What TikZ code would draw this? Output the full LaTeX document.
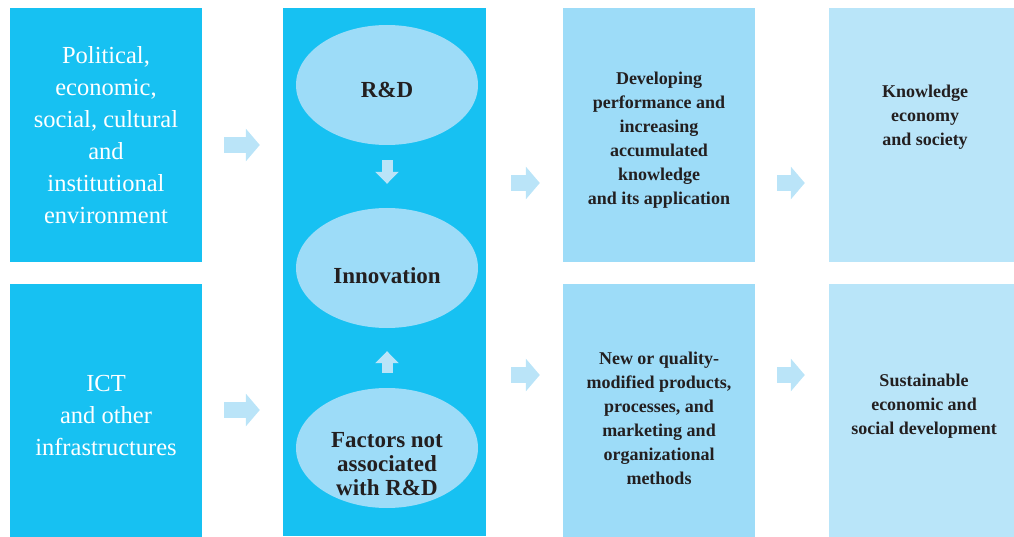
\documentclass[tikz,border=0pt]{standalone}
\usepackage{fontspec}
\setmainfont{Liberation Serif}
\usetikzlibrary{positioning, shapes.geometric, arrows.meta}

\definecolor{deepcyan}{HTML}{17C1F2}
\definecolor{paleblue}{HTML}{9DDCF8}
\definecolor{lightblue}{HTML}{B9E5F9}
\definecolor{arrowblue}{HTML}{BAE4F8}
\definecolor{inkgray}{HTML}{231F20}

\begin{document}
\begin{tikzpicture}[
        x=1pt, y=-1pt,
        every node/.style={inner sep=0pt, align=center},
        darkbox/.style={rectangle, fill=deepcyan, minimum width=192pt},
        midbox/.style={rectangle, fill=paleblue, minimum width=192pt},
        endbox/.style={rectangle, fill=lightblue, minimum width=185pt},
        bubble/.style={ellipse, fill=paleblue, minimum width=182pt, minimum height=120pt},
        whitetext/.style={text=white, font=\fontsize{24.5}{32}\selectfont},
        inktext/.style={text=inkgray, font=\bfseries\fontsize{18}{24}\selectfont},
        bubbletext/.style={text=inkgray, font=\bfseries\fontsize{23}{24}\selectfont},
        blockarrow/.style={arrowblue, line width=16pt, -{Triangle[length=14pt, width=32pt]}},
        smallarrow/.style={arrowblue, line width=11pt, -{Triangle[length=12pt, width=23pt]}}
    ]
    \useasboundingbox (0,0) rectangle (1014,537);

    % left column
    \node[darkbox, minimum height=254pt] (env) at (106,135) {};
    \node[whitetext] (env-txt) at (106,135) {Political,\\ economic,\\ social, cultural\\ and\\ institutional\\ environment};
    \node[darkbox, minimum height=253pt] (ict) at (106,410) {};
    \node[whitetext] (ict-txt) at (106,416) {ICT\\ and other\\ infrastructures};

    % middle column
    \node[rectangle, fill=deepcyan, minimum width=203pt, minimum height=528pt] (core) at (384.5,272) {};
    \node[bubble] (rd) at (387,85) {};
    \node[bubbletext] (rd-txt) at (387,90) {R\&D};
    \node[bubble] (innov) at (387,268) {};
    \node[bubbletext] (innov-txt) at (387,276) {Innovation};
    \node[bubble] (factors) at (387,448) {};
    \node[bubbletext] (factors-txt) at (387,464) {Factors not\\ associated\\ with R\&D};

    % results
    \node[midbox, minimum height=254pt] (perf) at (659,135) {};
    \node[inktext] (perf-txt) at (659,140) {Developing\\ performance and\\ increasing\\ accumulated\\ knowledge\\ and its application};
    \node[midbox, minimum height=253pt] (prod) at (659,410) {};
    \node[inktext] (prod-txt) at (659,418) {New or quality-\\ modified products,\\ processes, and\\ marketing and\\ organizational\\ methods};

    % outcomes
    \node[endbox, minimum height=254pt] (know) at (921.5,135) {};
    \node[inktext] (know-txt) at (925,117) {Knowledge\\ economy\\ and society};
    \node[endbox, minimum height=253pt] (sust) at (921.5,410) {};
    \node[inktext] (sust-txt) at (924,406) {Sustainable\\ economic and\\ social development};

    % block arrows
    \draw[blockarrow] ([xshift=22pt, yshift=-10pt]env.east) -- ([xshift=-23pt, yshift=127pt]core.west);
    \draw[blockarrow] ([xshift=22pt]ict.east) -- ([xshift=-23pt, yshift=-138pt]core.west);
    \draw[blockarrow] ([xshift=25pt, yshift=89pt]core.east) -- ([xshift=-23pt, yshift=-48pt]perf.west);
    \draw[blockarrow] ([xshift=25pt, yshift=-103pt]core.east) -- ([xshift=-23pt, yshift=35pt]prod.west);
    \draw[blockarrow] ([xshift=22pt, yshift=-48pt]perf.east) -- ([xshift=-24pt, yshift=-48pt]know.west);
    \draw[blockarrow] ([xshift=22pt, yshift=35pt]prod.east) -- ([xshift=-24pt, yshift=35pt]sust.west);

    \draw[smallarrow] ([yshift=-15pt]rd.south) -- ([yshift=24pt]innov.north);
    \draw[smallarrow] ([yshift=15pt]factors.north) -- ([yshift=-23pt]innov.south);

\end{tikzpicture}
\end{document}
